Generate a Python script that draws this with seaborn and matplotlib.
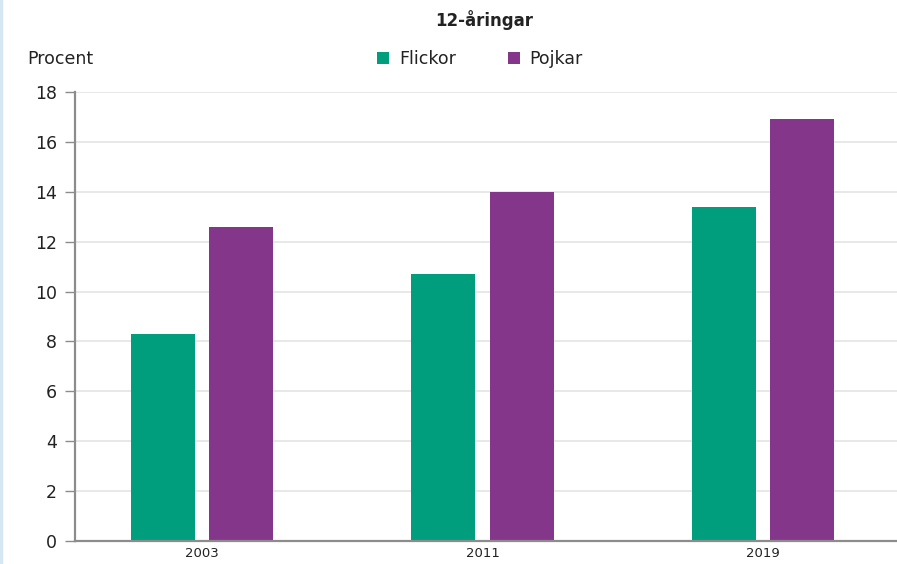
import matplotlib
matplotlib.use("Agg")
import matplotlib.pyplot as plt
import seaborn as sns
import pandas as pd
from matplotlib.patches import Patch
from matplotlib.lines import Line2D

years = ["2003", "2011", "2019"]
groups = ["Flickor", "Pojkar"]
flickor = [8.3, 10.7, 13.4]
pojkar = [12.6, 14.0, 16.9]
colors = {"Flickor": "#009E7D", "Pojkar": "#84378A"}

df = pd.DataFrame({
    "year": years * 2,
    "group": ["Flickor"] * 3 + ["Pojkar"] * 3,
    "value": flickor + pojkar,
})

sns.set_theme(style="white")
plt.rcParams["font.family"] = ["DejaVu Sans"]

fig = plt.figure(figsize=(8.97, 5.64), dpi=100)
ax = fig.add_axes([0.0836, 0.0408, 0.9164, 0.7961])

sns.barplot(data=df, x="year", y="value", hue="group", palette=colors,
            width=0.56, gap=0.186, ax=ax, legend=False, saturation=1,
            edgecolor="none", linewidth=0)

ax.set_xlim(-0.453, 2.477)
ax.set_ylim(0, 18)
ax.set_yticks(range(0, 19, 2))
ax.yaxis.grid(True, color="#e4e4e4", linewidth=1.2)
ax.set_axisbelow(True)
for s in ["top", "right"]:
    ax.spines[s].set_visible(False)
for s in ["left", "bottom"]:
    ax.spines[s].set_color("#8c8c8c")
    ax.spines[s].set_linewidth(1.6)
ax.tick_params(axis="y", length=7, width=1, color="#8c8c8c", labelsize=12.5,
               pad=6, left=True, labelcolor="#222222")
ax.tick_params(axis="x", length=0, labelsize=9.5, pad=4, labelcolor="#222222")
ax.set_xlabel("")
ax.set_ylabel("")

fig.text(0.5395, 0.965, "12-åringar", ha="center", va="center",
         fontsize=12, fontweight="bold", color="#222222")
fig.text(0.030, 0.895, "Procent", ha="left", va="center", fontsize=12.5,
         color="#222222")

handles = [Patch(facecolor=colors[g], edgecolor="none") for g in groups]
leg = fig.legend(handles, groups, loc="center", bbox_to_anchor=(0.535, 0.895),
                 ncol=2, frameon=False, fontsize=12.5, handlelength=0.7,
                 handleheight=0.7, handletextpad=0.55, columnspacing=3.0)
for t in leg.get_texts():
    t.set_color("#222222")

fig.add_artist(Line2D([0.0015, 0.0015], [0, 1], transform=fig.transFigure,
                      color="#d6e6f2", linewidth=2.5))

fig.savefig("out.png", dpi=100)
